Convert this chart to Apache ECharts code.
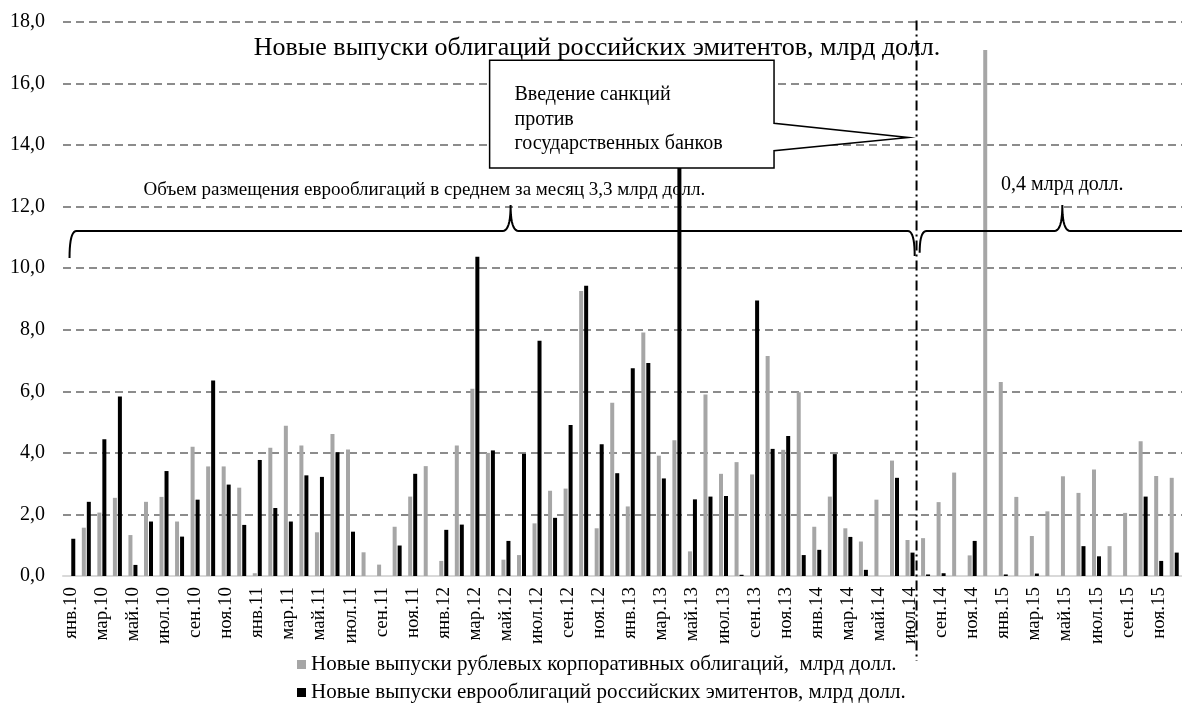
<!DOCTYPE html>
<html>
<head>
<meta charset="utf-8">
<script src="https://cdn.jsdelivr.net/npm/echarts@6.0.0/dist/echarts.min.js"></script>
<style>
  html, body { margin: 0; padding: 0; background: #fff; }
  #chart { width: 1182px; height: 713px; }
</style>
</head>
<body>
<div id="chart"></div>
<script>
// подписи месяцев
const monthNames = ['янв', 'фев', 'мар', 'апр', 'май', 'июн', 'июл', 'авг', 'сен', 'окт', 'ноя', 'дек'];
const years = ['10', '11', '12', '13', '14', '15'];
const yTicks = [0, 2, 4, 6, 8, 10, 12, 14, 16, 18];

// рублевые корпоративные облигации, млрд долл.
const rubBonds = [
  0, 1.57, 2.06, 2.54, 1.33, 2.41, 2.57, 1.77, 4.2, 3.56, 3.56, 2.87,
  0.09, 4.17, 4.88, 4.24, 1.42, 4.61, 4.11, 0.77, 0.37, 1.6, 2.58, 3.57,
  0.49, 4.24, 6.08, 4.0, 0.53, 0.68, 1.71, 2.77, 2.84, 9.26, 1.55, 5.63,
  2.26, 7.91, 3.91, 4.41, 0.8, 5.9, 3.32, 3.7, 3.3, 7.15, 4.1, 5.97,
  1.6, 2.58, 1.55, 1.12, 2.48, 3.75, 1.17, 1.23, 2.4, 3.36, 0.67, 17.09,
  6.3, 2.57, 1.3, 2.1, 3.24, 2.7, 3.46, 0.97, 2.05, 4.38, 3.25, 3.19
];
// еврооблигации российских эмитентов, млрд долл.
const euroBonds = [
  1.21, 2.41, 4.44, 5.83, 0.36, 1.77, 3.41, 1.28, 2.48, 6.35, 2.97, 1.66,
  3.77, 2.21, 1.77, 3.27, 3.22, 4.02, 1.44, 0, 0, 0.99, 3.32, 0,
  1.5, 1.67, 10.37, 4.08, 1.14, 3.97, 7.64, 1.89, 4.91, 9.43, 4.28, 3.34,
  6.75, 6.92, 3.17, 15.0, 2.49, 2.58, 2.6, 0.04, 8.95, 4.13, 4.55, 0.68,
  0.85, 3.96, 1.27, 0.2, 0, 3.19, 0.76, 0.05, 0.09, 0, 1.14, 0,
  0.05, 0, 0.08, 0, 0, 0.97, 0.64, 0, 0, 2.58, 0.49, 0.76
];

const categories = [];
years.forEach(function (y) {
  monthNames.forEach(function (m) { categories.push(m + '.' + y); });
});

const serif = 'Liberation Serif';
var myChart = echarts.init(document.getElementById('chart'));

var option = {
  backgroundColor: '#ffffff',
  animation: false,
  textStyle: {fontFamily: serif, color: '#000'},
  legend: {
    orient: 'vertical',
    left: 292,
    top: 649,
    itemWidth: 9,
    itemHeight: 9,
    itemGap: 7,
    icon: 'rect',
    textStyle: {fontFamily: serif, fontSize: 21, color: '#000', lineHeight: 21}
  },
  grid: {left: 63, right: 0, top: 22, bottom: 137},
  xAxis: {
    type: 'category',
    data: categories,
    axisLine: {lineStyle: {color: '#d9d9d9', width: 2}},
    axisTick: {show: false},
    axisLabel: {interval: 1, rotate: 90, margin: 11, fontFamily: serif, fontSize: 19, color: '#000'}
  },
  yAxis: {
    type: 'value',
    min: yTicks[0],
    max: yTicks[yTicks.length - 1],
    interval: 2,
    axisLine: {show: false},
    axisTick: {show: false},
    axisLabel: {
      margin: 18,
      fontFamily: serif, fontSize: 20, color: '#000',
      formatter: function (v) { return v.toFixed(1).replace('.', ','); }
    },
    splitLine: {lineStyle: {color: '#8c8c8c', width: 2, type: [8, 5]}}
  },
  series: [
    {
      name: 'Новые выпуски рублевых корпоративных облигаций,  млрд долл.',
      type: 'bar',
      data: rubBonds,
      barWidth: 4,
      barGap: '25%',
      itemStyle: {color: '#a6a6a6'}
    },
    {
      name: 'Новые выпуски еврооблигаций российских эмитентов, млрд долл.',
      type: 'bar',
      data: euroBonds,
      barWidth: 4,
      itemStyle: {color: '#000000'}
    }
  ]
};
myChart.setOption(option);

// аннотации: выноска, фигурные скобки, линия санкций
function drawNotes() {
  var x0 = myChart.convertToPixel({xAxisIndex: 0}, categories[0]);
  var step = myChart.convertToPixel({xAxisIndex: 0}, categories[1]) - x0;
  function X(f) { return x0 + f * step; }
  function Y(v) { return myChart.convertToPixel({yAxisIndex: 0}, v); }

  // квадратичная кривая -> точки
  function quad(p0, c, p1, pts) {
    for (var i = 1; i <= 10; i++) {
      var t = i / 10, u = 1 - t;
      pts.push([u * u * p0[0] + 2 * u * t * c[0] + t * t * p1[0],
                u * u * p0[1] + 2 * u * t * c[1] + t * t * p1[1]]);
    }
  }
  function brace(L, R, M, yl, ye, yp, rightEnd, ye2) {
    var pts = [[L, ye]];
    quad([L, ye], [L, yl], [L + 7, yl], pts);
    pts.push([M - 8, yl]);
    quad([M - 8, yl], [M, yl], [M, yp], pts);
    quad([M, yp], [M, yl], [M + 8, yl], pts);
    if (rightEnd) {
      pts.push([R - 7, yl]);
      quad([R - 7, yl], [R, yl], [R, ye2], pts);
    } else {
      pts.push([R, yl]);
    }
    return pts;
  }

  var lineX = X(54.42);
  var bx1 = X(26.95), bx2 = X(45.25), tipX = X(53.9);
  var by1 = Y(16.76), by2 = Y(13.26);

  myChart.setOption({
    graphic: [
      {
        type: 'text', z: 101, x: 597, y: Y(17.15),
        style: {
          text: 'Новые выпуски облигаций российских эмитентов, млрд долл.',
          fontFamily: serif, fontSize: 26, fill: '#000', align: 'center', verticalAlign: 'middle'
        }
      },
      {
        type: 'polygon', z: 100,
        shape: {points: [
          [bx1, by1], [bx2, by1], [bx2, Y(14.71)], [tipX, Y(14.25)],
          [bx2, Y(13.82)], [bx2, by2], [bx1, by2]
        ]},
        style: {fill: '#fff', stroke: '#000', lineWidth: 1.5}
      },
      {
        type: 'text', z: 101, x: X(28.55), y: Y(14.84),
        style: {
          text: 'Введение санкций\nпротив\nгосударственных банков',
          lineHeight: 24.5, verticalAlign: 'middle',
          fontFamily: serif, fontSize: 20, fill: '#000'
        }
      },
      {
        type: 'text', z: 101, x: X(22.75), y: Y(12.55),
        style: {
          text: 'Объем размещения еврооблигаций в среднем за месяц 3,3 млрд долл.',
          align: 'center', verticalAlign: 'middle',
          fontFamily: serif, fontSize: 19, fill: '#000'
        }
      },
      {
        type: 'text', z: 101, x: X(63.8), y: Y(12.72),
        style: {
          text: '0,4 млрд долл.', align: 'center', verticalAlign: 'middle',
          fontFamily: serif, fontSize: 20, fill: '#000'
        }
      },
      {
        type: 'polyline', z: 100,
        shape: {points: brace(X(-0.08), X(54.3), X(28.3), Y(11.21), Y(10.33), Y(12.05), true, Y(10.4))},
        style: {fill: null, stroke: '#000', lineWidth: 2}
      },
      {
        type: 'polyline', z: 100,
        shape: {points: brace(X(54.62), X(72), X(63.8), Y(11.21), Y(10.5), Y(12.05), false)},
        style: {fill: null, stroke: '#000', lineWidth: 2}
      },
      {
        type: 'line', z: 102,
        shape: {x1: lineX, y1: Y(18.05), x2: lineX, y2: Y(0) + 85},
        style: {stroke: '#000', lineWidth: 2, lineDash: [10, 4, 2, 4]}
      }
    ]
  });
}
drawNotes();
</script>
</body>
</html>
